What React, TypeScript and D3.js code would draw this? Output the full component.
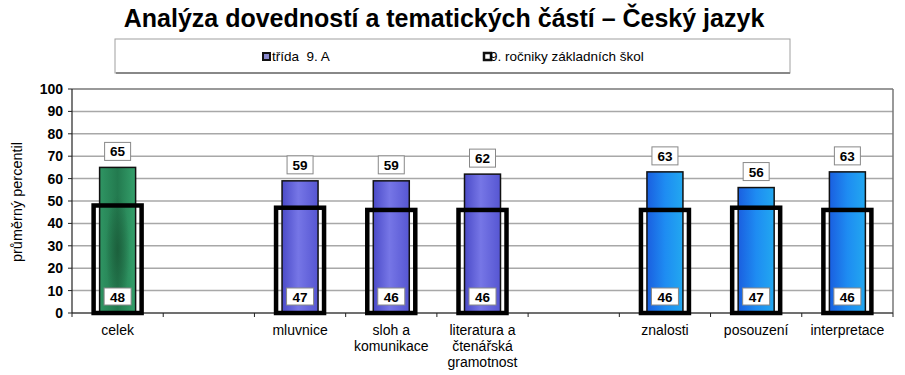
import React from "react";
import * as d3 from "d3";

const categories: string[][] = [
  ["celek"],
  [""],
  ["mluvnice"],
  ["sloh a", "komunikace"],
  ["literatura a", "čtenářská", "gramotnost"],
  [""],
  ["znalosti"],
  ["posouzení"],
  ["interpretace"],
];
const classValues: (number | null)[] = [65, null, 59, 59, 62, null, 63, 56, 63];
const schoolValues: (number | null)[] = [48, null, 47, 46, 46, null, 46, 47, 46];
const groupOf: string[] = ["g", "", "p", "p", "p", "", "b", "b", "b"];
const yTicks: number[] = [0, 10, 20, 30, 40, 50, 60, 70, 80, 90, 100];
const title = "Analýza dovedností a tematických částí – Český jazyk";
const legendLabels = ["třída\u00a0 9. A", "9. ročniky základních škol"];
const yLabel = "průměrný percentil";

const W = 905, H = 375;
const left = 72, right = 893, top = 89, bottom = 313;

export default function App() {
  const x = d3.scaleBand<number>().domain(d3.range(categories.length)).range([left, right]).padding(0);
  const y = d3.scaleLinear().domain([0, 100]).range([bottom, top]);
  const bw = x.bandwidth();
  const barW = 36;
  const frameW = 48;
  const font = "Arial, 'Liberation Sans', sans-serif";
  const fillFor: Record<string, string> = { g: "url(#gGreen)", p: "url(#gPurple)", b: "url(#gBlue)" };

  return (
    <svg width={W} height={H} style={{ position: "absolute", left: 0, top: 0, background: "#fff" }} fontFamily={font}>
      <defs>
        <linearGradient id="gGreen" x1="0" x2="1" y1="0" y2="0">
          <stop offset="0" stopColor="#2f9563" />
          <stop offset="0.5" stopColor="#237a4f" />
          <stop offset="1" stopColor="#34a06b" />
        </linearGradient>
        <radialGradient id="gGreenBlot" cx="0.5" cy="0.5" r="0.5">
          <stop offset="0" stopColor="#1a5a38" stopOpacity="0.8" />
          <stop offset="1" stopColor="#1a5a38" stopOpacity="0" />
        </radialGradient>
        <linearGradient id="gPurple" x1="0" x2="1" y1="0" y2="0">
          <stop offset="0" stopColor="#4b4bc8" />
          <stop offset="0.45" stopColor="#7676e6" />
          <stop offset="1" stopColor="#5656d2" />
        </linearGradient>
        <linearGradient id="gBlue" x1="0" x2="1" y1="0" y2="0">
          <stop offset="0" stopColor="#1a5fe0" />
          <stop offset="0.5" stopColor="#1e8cf2" />
          <stop offset="1" stopColor="#22a8f0" />
        </linearGradient>
      </defs>

      <text x={444} y={27} textAnchor="middle" fontSize={25} fontWeight="bold">{title}</text>

      {/* legend */}
      <rect x={115} y={39} width={675} height={34} fill="#fff" stroke="#a0a0a0" strokeWidth={1} />
      <line x1={116} x2={790} y1={73} y2={73} stroke="#888" strokeWidth={2} />
      <rect x={263} y={53} width={7} height={7} fill="#8888cc" stroke="#111" strokeWidth={2} />
      <text x={272} y={61} fontSize={13.5}>{legendLabels[0]}</text>
      <rect x={484} y={53} width={7} height={7} fill="#fff" stroke="#111" strokeWidth={2.5} />
      <text x={490} y={61} fontSize={13.5}>{legendLabels[1]}</text>

      {/* grid */}
      {yTicks.map((t) => (
        <line key={t} x1={left} x2={right} y1={y(t)} y2={y(t)} stroke={t === 100 ? "#777" : "#a8a8a8"} strokeWidth={1.5} />
      ))}
      <line x1={right} x2={right} y1={top} y2={bottom} stroke="#777" strokeWidth={1.5} />
      {/* y axis */}
      <line x1={left} x2={left} y1={top} y2={bottom} stroke="#222" strokeWidth={1.2} />
      {yTicks.map((t) => (
        <g key={"t" + t}>
          <line x1={left - 4} x2={left} y1={y(t)} y2={y(t)} stroke="#222" />
          <text x={left - 9} y={y(t) + 5} textAnchor="end" fontSize={14} fontWeight="bold">{t}</text>
        </g>
      ))}
      <text transform={`translate(22,${(top + bottom) / 2 + 1}) rotate(-90)`} textAnchor="middle" fontSize={14.5}>{yLabel}</text>

      {/* x ticks */}
      {d3.range(categories.length + 1).map((i) => {
        const xx = left + i * bw;
        return <line key={"xt" + i} x1={xx} x2={xx} y1={bottom} y2={bottom + 4} stroke="#222" />;
      })}

      {/* bars */}
      {classValues.map((v, i) => {
        if (v == null) return null;
        const cx = x(i)! + bw / 2;
        return (
          <g key={"b" + i}>
            <rect x={cx - barW / 2} y={y(v)} width={barW} height={bottom - y(v)} fill={fillFor[groupOf[i]]} stroke="#111" strokeWidth={1.5} />
            {groupOf[i] === "g" && (
              <ellipse cx={cx} cy={(y(v) + bottom) / 2 + 10} rx={barW / 3} ry={(bottom - y(v)) / 2.6} fill="url(#gGreenBlot)" />
            )}
          </g>
        );
      })}
      <line x1={left} x2={right} y1={bottom} y2={bottom} stroke="#222" strokeWidth={1.2} />

      {/* frames for school values */}
      {schoolValues.map((v, i) => {
        if (v == null) return null;
        const cx = x(i)! + bw / 2;
        return (
          <rect key={"f" + i} x={cx - frameW / 2} y={y(v)} width={frameW} height={bottom - y(v)} fill="none" stroke="#000" strokeWidth={4.5} />
        );
      })}

      {/* labels */}
      {classValues.map((v, i) => {
        if (v == null) return null;
        const cx = x(i)! + bw / 2;
        const by = y(v) - 25;
        return (
          <g key={"l" + i}>
            <rect x={cx - 13} y={by} width={26} height={18} fill="#fff" stroke="#888" strokeWidth={1} />
            <text x={cx} y={by + 14} textAnchor="middle" fontSize={13.5} fontWeight="bold">{v}</text>
          </g>
        );
      })}
      {schoolValues.map((v, i) => {
        if (v == null) return null;
        const cx = x(i)! + bw / 2;
        const by = bottom - 25;
        return (
          <g key={"s" + i}>
            <rect x={cx - 13.5} y={by} width={27} height={17} fill="#fff" stroke="#888" strokeWidth={1} />
            <text x={cx} y={by + 13.5} textAnchor="middle" fontSize={13.5} fontWeight="bold">{v}</text>
          </g>
        );
      })}

      {/* category labels */}
      {categories.map((lines, i) => {
        const cx = x(i)! + bw / 2;
        return (
          <text key={"c" + i} x={cx} textAnchor="middle" fontSize={14}>
            {lines.map((ln, j) => (
              <tspan key={j} x={cx} y={335 + j * 16}>{ln}</tspan>
            ))}
          </text>
        );
      })}
    </svg>
  );
}
